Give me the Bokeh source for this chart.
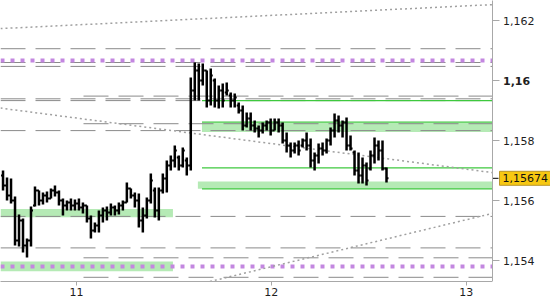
from bokeh.plotting import figure
from bokeh.layouts import row
from bokeh.models import Range1d, FixedTicker, Label, ColumnDataSource
from bokeh.core.properties import value
from bokeh.embed import file_html
from bokeh.resources import INLINE

# ---- OHLC bars (30-minute bars, days of month on x) ----
t_start = 10.623
t_step = 0.0205
high = [1.15700, 1.15677, 1.15673, 1.15613, 1.15553, 1.15540, 1.15473, 1.15580, 1.15647, 1.15633,
        1.15627, 1.15630, 1.15640, 1.15650, 1.15633, 1.15607, 1.15600, 1.15607, 1.15603, 1.15607,
        1.15593, 1.15583, 1.15550, 1.15527, 1.15567, 1.15577, 1.15580, 1.15590, 1.15583, 1.15593,
        1.15600, 1.15660, 1.15640, 1.15627, 1.15623, 1.15577, 1.15610, 1.15690, 1.15643, 1.15643,
        1.15690, 1.15733, 1.15750, 1.15783, 1.15750, 1.15777, 1.15743, 1.16010, 1.16060, 1.16057,
        1.16057, 1.16033, 1.16040, 1.16007, 1.15983, 1.15990, 1.15993, 1.15960, 1.15957, 1.15927,
        1.15917, 1.15893, 1.15893, 1.15867, 1.15850, 1.15860, 1.15867, 1.15873, 1.15873, 1.15873,
        1.15860, 1.15827, 1.15793, 1.15793, 1.15800, 1.15807, 1.15827, 1.15807, 1.15760, 1.15790,
        1.15793, 1.15807, 1.15843, 1.15890, 1.15883, 1.15867, 1.15877, 1.15817, 1.15767, 1.15760,
        1.15743, 1.15727, 1.15767, 1.15810, 1.15800, 1.15800, 1.15710]
low = [1.15633, 1.15600, 1.15590, 1.15450, 1.15447, 1.15427, 1.15410, 1.15447, 1.15580, 1.15583,
       1.15587, 1.15593, 1.15607, 1.15613, 1.15583, 1.15550, 1.15567, 1.15567, 1.15567, 1.15567,
       1.15557, 1.15527, 1.15473, 1.15493, 1.15493, 1.15527, 1.15533, 1.15550, 1.15550, 1.15553,
       1.15567, 1.15593, 1.15607, 1.15577, 1.15510, 1.15493, 1.15540, 1.15590, 1.15543, 1.15533,
       1.15623, 1.15627, 1.15700, 1.15710, 1.15700, 1.15710, 1.15683, 1.15700, 1.15933, 1.15933,
       1.15983, 1.15910, 1.15917, 1.15910, 1.15907, 1.15910, 1.15950, 1.15910, 1.15910, 1.15890,
       1.15833, 1.15843, 1.15833, 1.15827, 1.15810, 1.15823, 1.15833, 1.15817, 1.15833, 1.15827,
       1.15790, 1.15760, 1.15743, 1.15757, 1.15750, 1.15777, 1.15767, 1.15710, 1.15700, 1.15723,
       1.15750, 1.15757, 1.15783, 1.15810, 1.15827, 1.15810, 1.15767, 1.15767, 1.15683, 1.15657,
       1.15657, 1.15650, 1.15700, 1.15723, 1.15733, 1.15700, 1.15660]
open_ = [1.15683, 1.15650, 1.15617, 1.15600, 1.15467, 1.15533, 1.15450, 1.15467, 1.15583, 1.15633,
         1.15600, 1.15617, 1.15607, 1.15633, 1.15627, 1.15600, 1.15583, 1.15593, 1.15583, 1.15590,
         1.15577, 1.15583, 1.15540, 1.15500, 1.15517, 1.15550, 1.15567, 1.15560, 1.15577, 1.15567,
         1.15583, 1.15593, 1.15640, 1.15617, 1.15600, 1.15533, 1.15550, 1.15600, 1.15633, 1.15567,
         1.15633, 1.15673, 1.15717, 1.15733, 1.15743, 1.15717, 1.15733, 1.15717, 1.15967, 1.16033,
         1.16000, 1.16033, 1.15933, 1.16000, 1.15933, 1.15967, 1.15960, 1.15950, 1.15933, 1.15917,
         1.15900, 1.15850, 1.15873, 1.15850, 1.15840, 1.15833, 1.15850, 1.15860, 1.15833, 1.15860,
         1.15850, 1.15800, 1.15783, 1.15767, 1.15783, 1.15783, 1.15800, 1.15783, 1.15733, 1.15750,
         1.15773, 1.15767, 1.15800, 1.15833, 1.15867, 1.15850, 1.15860, 1.15783, 1.15760, 1.15700,
         1.15683, 1.15717, 1.15707, 1.15750, 1.15783, 1.15767, 1.15707]
close = [1.15650, 1.15617, 1.15600, 1.15467, 1.15533, 1.15450, 1.15467, 1.15567, 1.15633, 1.15600,
         1.15617, 1.15607, 1.15633, 1.15627, 1.15600, 1.15583, 1.15593, 1.15583, 1.15590, 1.15577,
         1.15583, 1.15540, 1.15500, 1.15517, 1.15550, 1.15567, 1.15560, 1.15577, 1.15567, 1.15583,
         1.15593, 1.15640, 1.15617, 1.15600, 1.15533, 1.15550, 1.15600, 1.15667, 1.15567, 1.15633,
         1.15673, 1.15717, 1.15733, 1.15767, 1.15717, 1.15767, 1.15717, 1.15967, 1.16033, 1.16000,
         1.16033, 1.15933, 1.16017, 1.15933, 1.15967, 1.15933, 1.15967, 1.15933, 1.15943, 1.15900,
         1.15850, 1.15873, 1.15850, 1.15840, 1.15833, 1.15850, 1.15860, 1.15833, 1.15860, 1.15850,
         1.15800, 1.15783, 1.15767, 1.15783, 1.15767, 1.15800, 1.15783, 1.15733, 1.15750, 1.15773,
         1.15767, 1.15800, 1.15833, 1.15867, 1.15850, 1.15860, 1.15783, 1.15773, 1.15700, 1.15683,
         1.15717, 1.15667, 1.15750, 1.15783, 1.15767, 1.15707, 1.15674]
last_price = 1.15674
last_price_label = "1,15674"

# ---- levels ----
day_start = 11.036          # levels that begin with day 11
zone_start = 11.644         # green levels start
dash_full_levels = [1.16106, 1.16060, 1.16047, 1.15939, 1.15933, 1.15833, 1.15547, 1.15442]
dash_day_levels = [1.15948, 1.15856, 1.15409, 1.15344]
purple_levels = [1.16067, 1.15380]
green_levels = [1.15933, 1.15861, 1.15709, 1.15639]
band_left = [10.610, 10.610, 11.644, 11.623]
band_right = [11.495, 11.495, 13.135, 13.135]
band_bottom = [1.15544, 1.15364, 1.15828, 1.15639]
band_top = [1.15572, 1.15397, 1.15858, 1.15663]
trend_x0 = [10.610, 10.610, 11.685]
trend_y0 = [1.16173, 1.15908, 1.15330]
trend_x1 = [13.135, 13.135, 13.135]
trend_y1 = [1.16253, 1.15693, 1.15557]

x_ticks = [11, 12, 13]
y_ticks = [1.154, 1.156, 1.158, 1.160, 1.162]
y_tick_labels = ["1,154", "1,156", "1,158", "1,16", "1,162"]
y_tick_styles = ["normal", "normal", "normal", "bold", "normal"]

X0, X1 = 10.610, 13.135
Y0, Y1 = 1.15330, 1.162667
FONT = "DejaVu Sans"
AXIS_GRAY = "#a8a8a8"

yr = Range1d(Y0, Y1)

# ---------------- main price panel ----------------
p = figure(frame_width=492, frame_height=281,
           x_range=Range1d(X0, X1), y_range=yr,
           y_axis_location=None, toolbar_location=None, output_backend="svg",
           min_border_left=0, min_border_top=0, min_border_right=0, min_border_bottom=19)
p.outline_line_color = None
p.grid.visible = False
p.background_fill_color = "white"
p.border_fill_color = "white"

p.quad(left=band_left, right=band_right, bottom=band_bottom, top=band_top,
       fill_color="#b5eab5", line_color=None)

p.segment(x0=[X0] * len(dash_full_levels), y0=dash_full_levels,
          x1=[X1] * len(dash_full_levels), y1=dash_full_levels,
          line_color="#8a8a8a", line_width=1, line_dash="25 10")
p.segment(x0=[day_start] * len(dash_day_levels), y0=dash_day_levels,
          x1=[X1] * len(dash_day_levels), y1=dash_day_levels,
          line_color="#8a8a8a", line_width=1, line_dash="25 10")

p.segment(x0=[X0] * len(purple_levels), y0=purple_levels,
          x1=[X1] * len(purple_levels), y1=purple_levels,
          line_color="#c387e0", line_width=4, line_dash="4 6")

p.segment(x0=[zone_start] * len(green_levels), y0=green_levels,
          x1=[X1] * len(green_levels), y1=green_levels,
          line_color="#3ec83e", line_width=1.2)

p.segment(x0=trend_x0, y0=trend_y0, x1=trend_x1, y1=trend_y1,
          line_color="#a0a0a0", line_width=1.5, line_dash="2 3")

t = [t_start + i * t_step for i in range(len(high))]
dt = 2.0 / 194.85
p.segment(x0=t, y0=low, x1=t, y1=high, line_color="black", line_width=2.5)
p.segment(x0=[v - dt for v in t], y0=open_, x1=t, y1=open_, line_color="black", line_width=2)
p.segment(x0=t, y0=close, x1=[v + dt for v in t], y1=close, line_color="black", line_width=2)

xa = p.xaxis[0]
xa.ticker = FixedTicker(ticks=x_ticks)
xa.axis_line_color = AXIS_GRAY
xa.major_tick_line_color = AXIS_GRAY
xa.minor_tick_line_color = None
xa.major_tick_in = 0
xa.major_tick_out = 4
xa.major_label_standoff = 2
xa.major_label_text_font = FONT
xa.major_label_text_font_size = "11px"
xa.major_label_text_color = "#1e1e1e"

# ---------------- price scale panel (right) ----------------
s = figure(frame_width=58, frame_height=281, x_range=Range1d(0, 58), y_range=yr,
           x_axis_location=None, y_axis_location="left",
           toolbar_location=None, output_backend="svg",
           min_border_left=0, min_border_top=0, min_border_right=0, min_border_bottom=19)
s.outline_line_color = None
s.grid.visible = False
s.background_fill_color = "white"
s.border_fill_color = "white"

ya = s.yaxis[0]
ya.ticker = FixedTicker(ticks=y_ticks)
ya.major_label_overrides = {v: "" for v in y_ticks}
ya.axis_line_color = AXIS_GRAY
ya.major_tick_line_color = AXIS_GRAY
ya.minor_tick_line_color = None
ya.major_tick_in = 7
ya.major_tick_out = 0
ya.major_label_standoff = 0

src = ColumnDataSource(dict(y=y_ticks, text=y_tick_labels, style=y_tick_styles))
s.text(x=0, y="y", text="text", source=src, x_offset=10.5,
       text_font=value(FONT), text_font_size="11px",
       text_font_style="style", text_color="#1e1e1e",
       text_baseline="middle", text_align="left")

# last price marker and box
s.segment(x0=[0], y0=[last_price], x1=[6], y1=[last_price], line_color="black", line_width=1)
s.add_layout(Label(x=7, y=last_price, text=last_price_label,
                   text_font=FONT, text_font_size="11px", text_color="#111111",
                   text_baseline="middle", text_align="left",
                   background_fill_color="#f7c812", border_line_color="#b8962c",
                   padding=3))

layout = row(p, s, spacing=0)
open("out.html", "w").write(file_html(layout, INLINE))
